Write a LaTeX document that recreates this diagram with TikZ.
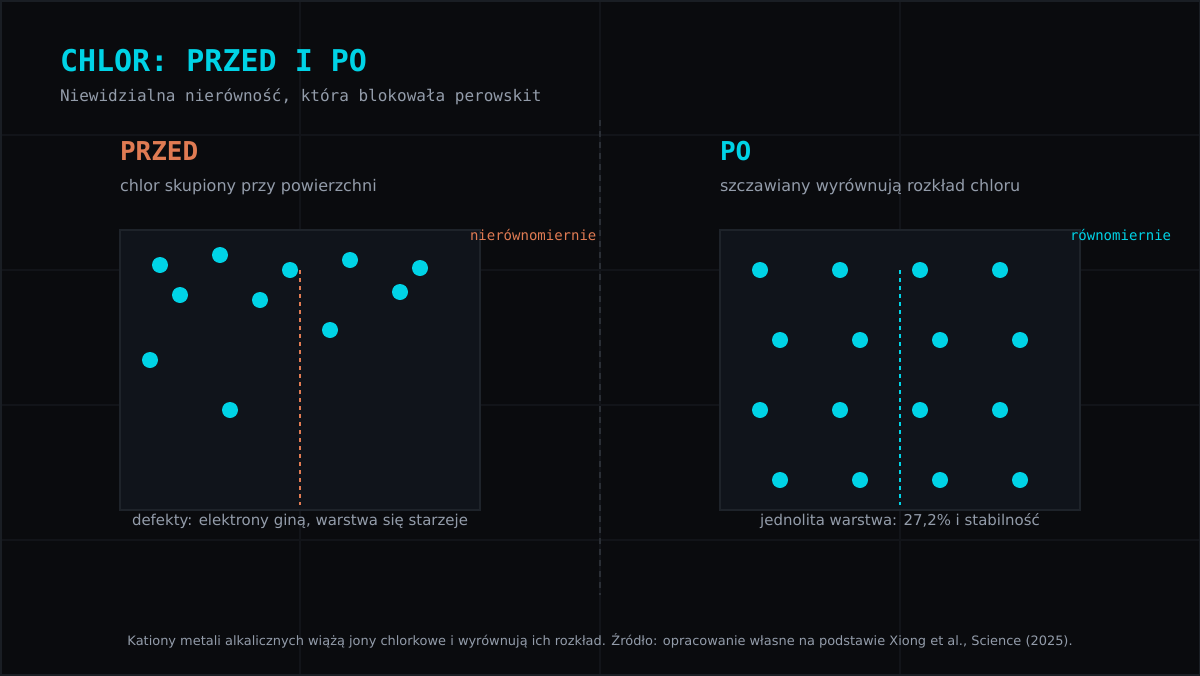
\documentclass[tikz,border=0pt]{standalone}
\usepackage{fontspec}
\setmainfont{DejaVu Sans}
\newfontfamily\monofont{DejaVu Sans Mono}
\usetikzlibrary{positioning}
\definecolor{bgdark}{HTML}{0A0B0E}
\definecolor{panel}{HTML}{10141B}
\definecolor{panelline}{HTML}{1E232A}
\definecolor{gridline}{HTML}{121419}
\definecolor{frameline}{HTML}{1A1E24}
\definecolor{chlorcyan}{HTML}{00D3E6}
\definecolor{przedorange}{HTML}{E07B53}
\definecolor{muted}{HTML}{939CAA}
\definecolor{divider}{HTML}{2A2E35}

\begin{document}
\begin{tikzpicture}[
        x=0.75pt, y=-0.75pt,
        every node/.style={inner sep=0pt, outer sep=0pt},
        title/.style={anchor=base west, text=chlorcyan, font=\monofont\bfseries\fontsize{22.5}{27}\selectfont},
        subtitle/.style={anchor=base west, text=muted, font=\monofont\fontsize{12}{14}\selectfont},
        head/.style={anchor=base west, font=\monofont\bfseries\fontsize{19.5}{23}\selectfont},
        note/.style={anchor=base west, text=muted, font=\fontsize{12}{14}\selectfont},
        tag/.style={anchor=base west, font=\monofont\fontsize{10.5}{12}\selectfont},
        caption/.style={anchor=base, text=muted, font=\fontsize{11.2}{13}\selectfont},
        footer/.style={anchor=base, text=muted, font=\fontsize{9.7}{12}\selectfont},
        panelbox/.style={fill=panel, draw=panelline, line width=1.5pt},
        ion/.style={circle, fill=chlorcyan, minimum size=12pt}]
        
        \useasboundingbox (0,0) rectangle (1200,675);
        \fill[bgdark] (0,0) rectangle (1200,675);
        \foreach \gx in {300,600,900}
            \draw[gridline, line width=1pt] (\gx,0) -- (\gx,675);
        \foreach \gy in {135,270,405,540}
            \draw[gridline, line width=1pt] (0,\gy) -- (1200,\gy);
        \draw[frameline, line width=1.5pt] (0.5,0.5) rectangle (1199.5,674.5);
        
        \node[title] (title) at (60,71) {CHLOR: PRZED I PO};
        \node[subtitle] (sub) at (60,101) {Niewidzialna nierówność, która blokowała perowskit};
        
        \coordinate (midtop) at (600,120);
        \coordinate (midbot) at (600,595);
        \draw[divider, line width=1.2pt, dash pattern=on 4.5pt off 3.75pt] (midtop) -- (midbot);
        
        \node[head, text=przedorange] (przed) at (120,160) {PRZED};
        \node[note] (przednote) at (120,191) {chlor skupiony przy powierzchni};
        \node[panelbox, minimum width=270pt, minimum height=210pt] (before) at (300,370) {};
        \node[tag, text=przedorange] (uneven) at (470,240) {nierównomiernie};
        \foreach \x/\y [count=\i] in {160/265, 220/255, 290/270, 350/260, 420/268,
            180/295, 260/300, 400/292, 330/330, 150/360, 230/410}
            \node[ion] (l\i) at (\x,\y) {};
        \coordinate (ltop) at (300,270);
        \coordinate (lbot) at (300,505);
        \draw[przedorange, line width=1.5pt, dash pattern=on 3pt off 3pt] (ltop) -- (lbot);
        \node[caption] (lcap) at (300,525) {defekty: elektrony giną, warstwa się starzeje};
        
        \node[head, text=chlorcyan] (po) at (720,160) {PO};
        \node[note] (ponote) at (720,191) {szczawiany wyrównują rozkład chloru};
        \node[panelbox, minimum width=270pt, minimum height=210pt] (after) at (900,370) {};
        \node[tag, text=chlorcyan] (even) at (1070,240) {równomiernie};
        \foreach \y/\s in {270/760, 340/780, 410/760, 480/780}
            \foreach \x in {0,80,160,240}
                \node[ion] (r\y-\x) at (\s+\x,\y) {};
        \coordinate (rtop) at (900,270);
        \coordinate (rbot) at (900,505);
        \draw[chlorcyan, line width=1.5pt, dash pattern=on 3pt off 3pt] (rtop) -- (rbot);
        \node[caption] (rcap) at (900,525) {jednolita warstwa: 27,2\% i stabilność};
        
        \node[footer] (source) at (600,645) {Kationy metali alkalicznych wiążą jony chlorkowe i wyrównują ich rozkład. Źródło: opracowanie własne na podstawie Xiong et al., Science (2025).};
        
    \end{tikzpicture}
\end{document}
